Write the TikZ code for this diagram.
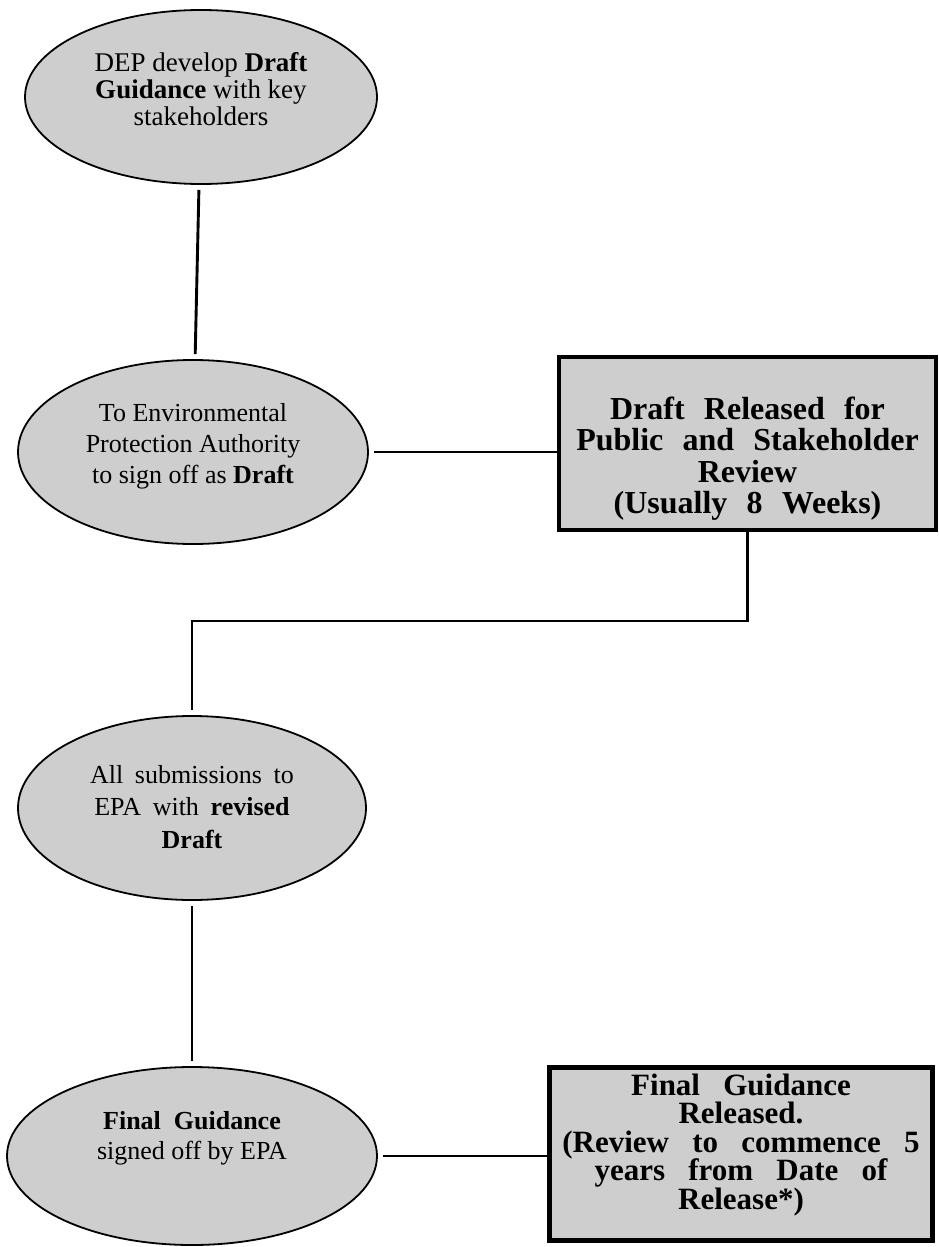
\documentclass[tikz,border=0pt]{standalone}
\usepackage{fontspec}
\setmainfont{Liberation Serif}
\usetikzlibrary{positioning, shapes.geometric}
\definecolor{screen}{RGB}{206,206,206}
\newcommand{\widen}[1]{\spaceskip #1em plus 0.2em\relax}
\tikzset{
stage/.style = { ellipse, draw = black, line width = 1.8pt, fill = screen, inner sep = 0pt, outer sep = 6pt },
stage text/.style = { align = center, inner sep = 0pt, font = \fontsize{26}{31}\selectfont },
notice/.style = { rectangle, draw = black, line width = 4.5pt, fill = screen, inner sep = 0pt },
notice text/.style = { align = center, inner sep = 0pt, font = \fontsize{32}{31.5}\selectfont\bfseries\widen{0.6} },
link/.style = { draw = black, line width = 2.9pt },
}

\begin{document}
\begin{tikzpicture}[x=1pt, y=-1pt]
      \useasboundingbox (0,0) rectangle (938,1247);
      % stages on the left
      \begin{scope}
        \node[stage, minimum width=352pt, minimum height=174pt] (dev) at (201,97) {};
        \node[stage, minimum width=350pt, minimum height=184pt] (signoff) at (193,452) {};
        \node[stage, minimum width=348pt, minimum height=184pt] (submit) at (192,808) {};
        \node[stage, minimum width=370pt, minimum height=178pt] (final) at (192,1156) {};
        \node[stage text, font=\fontsize{27}{27}\selectfont] (dev text) at ([yshift=8pt]dev.center) {DEP develop \textbf{Draft}\\\textbf{Guidance} with key\\stakeholders};
        \node[stage text] (signoff text) at ([yshift=6pt]signoff.center) {To Environmental\\Protection Authority\\to sign off as \textbf{Draft}};
        \node[stage text, font=\fontsize{26}{32.5}\selectfont\widen{0.45}] (submit text) at ([yshift=1pt]submit.center) {All submissions to\\EPA with \textbf{revised}\\\textbf{Draft}};
        \node[stage text, font=\fontsize{26}{30}\selectfont] (final text) at ([yshift=18pt]final.center) {\textbf{Final\ \ Guidance}\\signed off by EPA};
      \end{scope}
      % release boxes on the right
      \begin{scope}
        \node[notice, minimum width=377pt, minimum height=173pt] (draftout) at (747.5,443.5) {};
        \node[notice, minimum width=383pt, minimum height=173pt] (finalout) at (741,1154) {};
        \node[notice text] (draftout text) at ([yshift=-15pt]draftout.center) {Draft Released for\\Public and Stakeholder\\Review\\(Usually 8 Weeks)};
        \node[notice text, font=\fontsize{31}{28.5}\selectfont\bfseries\widen{0.75}] (finalout text) at ([yshift=9pt]finalout.center) {Final Guidance\\Released.\\(Review to commence 5\\years from Date of\\Release*)};
      \end{scope}
      \coordinate (turn) at (192,621);
      \begin{scope}[every edge/.style={link}]
        \path [-] (dev) edge (signoff);
        \path [-] (signoff.east) edge (signoff.east -| draftout.west);
        \draw [link] (draftout.south) |- (turn) -- (submit.north);
        \path [-] (submit) edge (final);
        \path [-] (final.east) edge (final.east -| finalout.west);
      \end{scope}
    \end{tikzpicture}
\end{document}
